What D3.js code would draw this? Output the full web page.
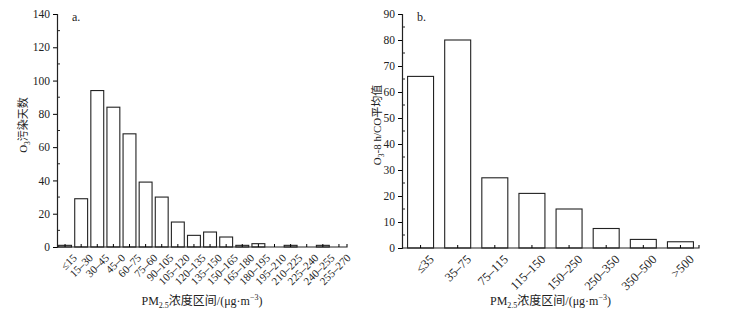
<!DOCTYPE html>
<html>
<head>
<meta charset="utf-8">
<script src="https://cdn.jsdelivr.net/npm/d3@7"></script>
<style>
  body { margin: 0; background: #fff; }
  text { font-family: "Liberation Serif", "Noto Sans CJK SC", serif; fill: #222; }
</style>
</head>
<body>
<svg width="736" height="320"></svg>
<script>
const svg = d3.select("svg");

// panel a
const binsA = ["≤15", "15–30", "30–45", "45–0", "60–75", "75–60", "90–105", "105–120", "120–135",
  "135–150", "150–165", "165–180", "180–195", "195–210", "210–225", "225–240", "240–255", "255–270"];
const daysA = [1, 29, 94, 84, 68, 39, 30, 15, 7, 9, 6, 1, 2, 0, 1, 0, 1, 0];

// panel b
const binsB = ["≤35", "35–75", "75–115", "115–150", "150–250", "250–350", "350–500", ">500"];
const ratioB = [66, 80, 27, 21, 15, 7.5, 3.3, 2.4];

function panel(opt) {
  const g = svg.append("g");
  const x = d3.scaleBand().domain(opt.cats).range([opt.x0, opt.x1]).paddingInner(opt.pad).paddingOuter(opt.pad / 2);
  const y = d3.scaleLinear().domain([0, opt.ymax]).range([opt.y0, opt.y1]);

  g.selectAll("rect.bar")
    .data(opt.vals)
    .join("rect")
    .attr("class", "bar")
    .attr("x", (d, i) => x(opt.cats[i]))
    .attr("width", x.bandwidth())
    .attr("y", d => y(d))
    .attr("height", d => y(0) - y(d))
    .attr("fill", "#fff")
    .attr("stroke", "#222")
    .attr("stroke-width", 1.1);

  // y axis: major ticks outward, minor inward
  const yAxis = g.append("g")
    .attr("transform", `translate(${opt.x0},0)`)
    .call(d3.axisLeft(y).tickValues(d3.range(0, opt.ymax + 1, opt.step)).tickSize(4).tickPadding(3));
  yAxis.select(".domain").attr("stroke", "#222").attr("stroke-width", 1.2);
  yAxis.selectAll("text").attr("font-size", 11.5).style("font-family", "Liberation Serif");
  g.append("g").attr("transform", `translate(${opt.x0},0)`)
    .selectAll("line")
    .data(d3.range(opt.step / 2, opt.ymax, opt.step))
    .join("line")
    .attr("x1", 0).attr("x2", 3)
    .attr("y1", d => y(d)).attr("y2", d => y(d))
    .attr("stroke", "#222");

  // x axis
  const xAxis = g.append("g")
    .attr("transform", `translate(0,${opt.y0})`)
    .call(d3.axisBottom(x).tickSize(-3).tickSizeOuter(0).tickPadding(4));
  xAxis.select(".domain").attr("stroke", "#222").attr("stroke-width", 1.2)
    .attr("d", `M${opt.x0},0H${opt.x1}V-3`);
  xAxis.selectAll("text")
    .attr("font-size", opt.fs)
    .style("font-family", "Liberation Serif")
    .attr("text-anchor", "end")
    .attr("transform", `translate(${opt.lx},4) rotate(-45)`)
    .attr("dy", "0.6em");

  g.append("text").attr("x", opt.x0 + 15).attr("y", 21).attr("font-size", 12).text(opt.tag);

  // y title
  const yt = g.append("text")
    .attr("transform", `translate(${opt.ytx},125) rotate(-90)`)
    .attr("text-anchor", "middle").attr("font-size", 11);
  yt.append("tspan").text("O");
  yt.append("tspan").attr("font-size", 7.5).attr("dy", 3).text("3");
  yt.append("tspan").attr("dy", -3).text(opt.ytitle);

  // x title
  const xt = g.append("text")
    .attr("x", (opt.x0 + opt.x1) / 2).attr("y", 305)
    .attr("text-anchor", "middle").attr("font-size", 12);
  xt.append("tspan").text("PM");
  xt.append("tspan").attr("font-size", 8).attr("dy", 3).text("2.5");
  xt.append("tspan").attr("dy", -3).text("浓度区间/(μg·m");
  xt.append("tspan").attr("font-size", 8).attr("dy", -5).text("−3");
  xt.append("tspan").attr("dy", 5).text(")");
}

panel({ cats: binsA, vals: daysA, ymax: 140, step: 20, x0: 57, x1: 347, y0: 247, y1: 14,
  pad: 0.2, fs: 11, lx: 5, tag: "a.", ytx: 27, ytitle: "污染天数" });
panel({ cats: binsB, vals: ratioB, ymax: 90, step: 10, x0: 402, x1: 699, y0: 248, y1: 14,
  pad: 0.3, fs: 12.5, lx: 6, tag: "b.", ytx: 381, ytitle: "-8 h/CO平均值" });
</script>
</body>
</html>
